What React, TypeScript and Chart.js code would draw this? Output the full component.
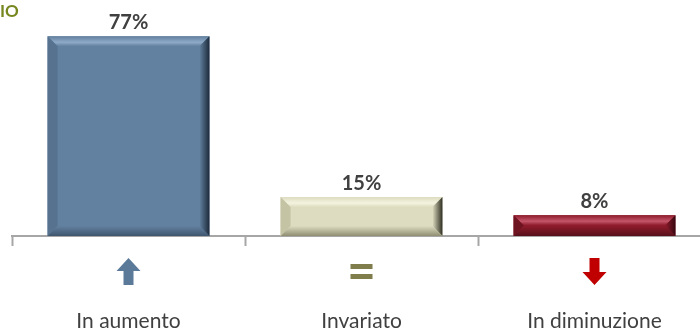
import React, { useEffect, useRef } from "react";
import { Chart, registerables } from "chart.js";

Chart.register(...registerables);

const categories = ["In aumento", "Invariato", "In diminuzione"];
const values = [77, 15, 8];
const valueLabels = ["77%", "15%", "8%"];
const titleText = "IO";

const palette = [
  { body: "#62809f", top: "#8eaac8", left: "#56728f", right: "#1c2a3a", bottom: "#3f566f" },
  { body: "#dddcc0", top: "#f4f3df", left: "#c4c3a4", right: "#2e2e22", bottom: "#8f8e72" },
  { body: "#8d1b2b", top: "#c4566a", left: "#6e1420", right: "#35070f", bottom: "#561019" },
];
const iconKinds = ["up", "equal", "down"];
const iconColors = ["#5b7a9a", "#7f7d4c", "#c00000"];

const bevelPlugin = {
  id: "bevel",
  afterDatasetsDraw(chart: any) {
    const ctx = chart.ctx;
    const meta = chart.getDatasetMeta(0);
    meta.data.forEach((el: any, i: number) => {
      const p = palette[i];
      const w = el.width;
      const x0 = el.x - w / 2;
      const x1 = el.x + w / 2;
      const y0 = el.y;
      const y1 = el.base;
      const b = Math.min(10, (y1 - y0) / 2);
      ctx.save();
      ctx.fillStyle = p.body;
      ctx.fillRect(x0, y0, w, y1 - y0);
      const gTop = ctx.createLinearGradient(0, y0, 0, y0 + b);
      gTop.addColorStop(0, p.body);
      gTop.addColorStop(0.6, p.top);
      gTop.addColorStop(1, p.body);
      ctx.fillStyle = gTop;
      ctx.beginPath();
      ctx.moveTo(x0, y0); ctx.lineTo(x1, y0); ctx.lineTo(x1 - b, y0 + b); ctx.lineTo(x0 + b, y0 + b); ctx.closePath();
      ctx.fill();
      ctx.fillStyle = p.left;
      ctx.beginPath();
      ctx.moveTo(x0, y0); ctx.lineTo(x0 + b, y0 + b); ctx.lineTo(x0 + b, y1 - b); ctx.lineTo(x0, y1); ctx.closePath();
      ctx.fill();
      const gR = ctx.createLinearGradient(x1 - b, 0, x1, 0);
      gR.addColorStop(0, p.body);
      gR.addColorStop(1, p.right);
      ctx.fillStyle = gR;
      ctx.beginPath();
      ctx.moveTo(x1, y0); ctx.lineTo(x1, y1); ctx.lineTo(x1 - b, y1 - b); ctx.lineTo(x1 - b, y0 + b); ctx.closePath();
      ctx.fill();
      const gB = ctx.createLinearGradient(0, y1 - b, 0, y1);
      gB.addColorStop(0, p.body);
      gB.addColorStop(1, p.bottom);
      ctx.fillStyle = gB;
      ctx.beginPath();
      ctx.moveTo(x0, y1); ctx.lineTo(x1, y1); ctx.lineTo(x1 - b, y1 - b); ctx.lineTo(x0 + b, y1 - b); ctx.closePath();
      ctx.fill();
      ctx.fillStyle = "#404040";
      ctx.font = "bold 20px Lato, 'Open Sans', sans-serif";
      ctx.textAlign = "center";
      ctx.textBaseline = "middle";
      ctx.fillText(valueLabels[i], el.x, y0 - 14);
      ctx.restore();
    });
  },
};

const iconPlugin = {
  id: "icons",
  afterDraw(chart: any) {
    const ctx = chart.ctx;
    const xs = chart.scales.x;
    const top = chart.chartArea.bottom;
    categories.forEach((_, i) => {
      const cx = xs.getPixelForValue(i);
      const kind = iconKinds[i];
      ctx.save();
      ctx.fillStyle = iconColors[i];
      const yA = top + 22;
      const yB = top + 49;
      if (kind === "up") {
        ctx.beginPath();
        ctx.moveTo(cx, yA);
        ctx.lineTo(cx + 12, yA + 13);
        ctx.lineTo(cx + 5, yA + 13);
        ctx.lineTo(cx + 5, yB);
        ctx.lineTo(cx - 5, yB);
        ctx.lineTo(cx - 5, yA + 13);
        ctx.lineTo(cx - 12, yA + 13);
        ctx.closePath();
        ctx.fill();
      } else if (kind === "down") {
        ctx.beginPath();
        ctx.moveTo(cx, yB);
        ctx.lineTo(cx + 12, yB - 13);
        ctx.lineTo(cx + 5, yB - 13);
        ctx.lineTo(cx + 5, yA);
        ctx.lineTo(cx - 5, yA);
        ctx.lineTo(cx - 5, yB - 13);
        ctx.lineTo(cx - 12, yB - 13);
        ctx.closePath();
        ctx.fill();
      } else {
        ctx.fillRect(cx - 11, top + 28, 22, 5);
        ctx.fillRect(cx - 11, top + 38, 22, 5);
      }
      ctx.restore();
    });
  },
};

export default function App() {
  const ref = useRef<HTMLCanvasElement | null>(null);
  useEffect(() => {
    document.body.style.margin = "0";
    const chart = new Chart(ref.current as HTMLCanvasElement, {
      type: "bar",
      data: {
        labels: categories,
        datasets: [
          {
            data: values,
            backgroundColor: "rgba(0,0,0,0)",
            borderWidth: 0,
            barPercentage: 0.695,
            categoryPercentage: 1,
          },
        ],
      },
      options: {
        responsive: false,
        animation: false,
        devicePixelRatio: 1,
        layout: { padding: { left: 12, right: 0, top: 0, bottom: 0 } },
        plugins: { legend: { display: false }, tooltip: { enabled: false } },
        scales: {
          y: { display: false, min: 0, max: 91 },
          x: {
            afterFit(scale: any) {
              scale.height = 96;
              scale.paddingLeft = 0;
              scale.paddingRight = 0;
            },
            border: { display: true, color: "#a6a6a6", width: 2 },
            grid: {
              display: true,
              offset: true,
              drawOnChartArea: false,
              drawTicks: true,
              tickLength: 10,
              tickWidth: 2,
              tickColor: "#a6a6a6",
            },
            ticks: {
              color: "#404040",
              padding: 63,
              maxRotation: 0,
              font: { family: "Lato, 'Open Sans', sans-serif", size: 21 },
            },
          },
        },
      },
      plugins: [bevelPlugin, iconPlugin],
    });
    return () => chart.destroy();
  }, []);
  return (
    <div style={{ position: "relative", width: 700, height: 332, overflow: "hidden", background: "#fff" }}>
      <canvas ref={ref} width={711} height={332} style={{ display: "block" }} />
      <div
        style={{
          position: "absolute",
          left: 0,
          top: 1,
          fontFamily: "Lato, 'Open Sans', sans-serif",
          fontWeight: "bold",
          fontSize: 17,
          color: "#77871f",
          lineHeight: "20px",
        }}
      >
        {titleText}
      </div>
    </div>
  );
}
